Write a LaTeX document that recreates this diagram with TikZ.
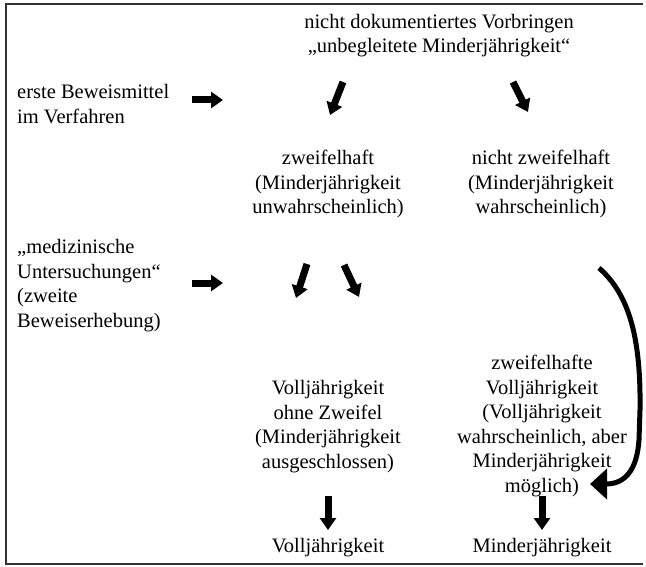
\documentclass[tikz,border=0pt]{standalone}
\usepackage{fontspec}
\setmainfont{Liberation Serif}
\usetikzlibrary{arrows.meta}
\begin{document}
\begin{tikzpicture}[x=1pt,y=-1pt,
  txt/.style={inner sep=0pt,align=center,font=\fontsize{20.5}{24.5}\selectfont},
  ltxt/.style={txt,align=left,anchor=west},
  fat/.style={line width=7pt,-{Triangle[width=16pt,length=12pt]}},
  frame/.style={line width=1.4pt,draw=black!80}]
\useasboundingbox (0,0) rectangle (646,567);
\draw[frame] (643,4) -- (6,4) -- (6,564) -- (643,564);

\node[txt] (top) at (439,35.5) {nicht dokumentiertes Vorbringen\\„unbegleitete Minderjährigkeit“};
\node[ltxt] (erste) at (17,104) {erste Beweismittel\\im Verfahren};
\node[txt] (zw) at (328,184) {zweifelhaft\\(Minderjährigkeit\\unwahrscheinlich)};
\node[txt] (nzw) at (541,184) {nicht zweifelhaft\\(Minderjährigkeit\\wahrscheinlich)};
\node[ltxt] (med) at (17,285.5) {„medizinische\\Untersuchungen“\\(zweite\\Beweiserhebung)};
\node[txt] (vo) at (328,426.5) {Volljährigkeit\\ohne Zweifel\\(Minderjährigkeit\\ausgeschlossen)};
\node[txt] (zv) at (542,426) {zweifelhafte\\Volljährigkeit\\(Volljährigkeit\\wahrscheinlich, aber\\Minderjährigkeit\\möglich)};
\node[txt] (rv) at (328,548) {Volljährigkeit};
\node[txt] (rm) at (542,548) {Minderjährigkeit};

\coordinate (a1s) at (192,100); \coordinate (a1e) at (223,100);
\coordinate (a2s) at (343,82);  \coordinate (a2e) at (330,115);
\coordinate (a3s) at (513,82);  \coordinate (a3e) at (528,112);
\coordinate (b1s) at (192,283); \coordinate (b1e) at (223,283);
\coordinate (b2s) at (307,264); \coordinate (b2e) at (296,298);
\coordinate (b3s) at (344,265); \coordinate (b3e) at (359,297);
\coordinate (c1s) at (328,496); \coordinate (c1e) at (328,530);
\coordinate (c2s) at (542,496); \coordinate (c2e) at (542,530);
\coordinate (cs) at (599,268);  \coordinate (ce) at (590,484);

\draw[fat] (a1s) -- (a1e);
\draw[fat] (a2s) -- (a2e);
\draw[fat] (a3s) -- (a3e);
\draw[fat] (b1s) -- (b1e);
\draw[fat] (b2s) -- (b2e);
\draw[fat] (b3s) -- (b3e);
\draw[fat] (c1s) -- (c1e);
\draw[fat] (c2s) -- (c2e);
\draw[line width=5pt,-{Triangle[width=30pt,length=17pt]}] (cs) .. controls (630,295) and (641,340) .. (640,410) -- (639,440) .. controls (637,470) and (625,484) .. (ce);
\end{tikzpicture}
\end{document}
